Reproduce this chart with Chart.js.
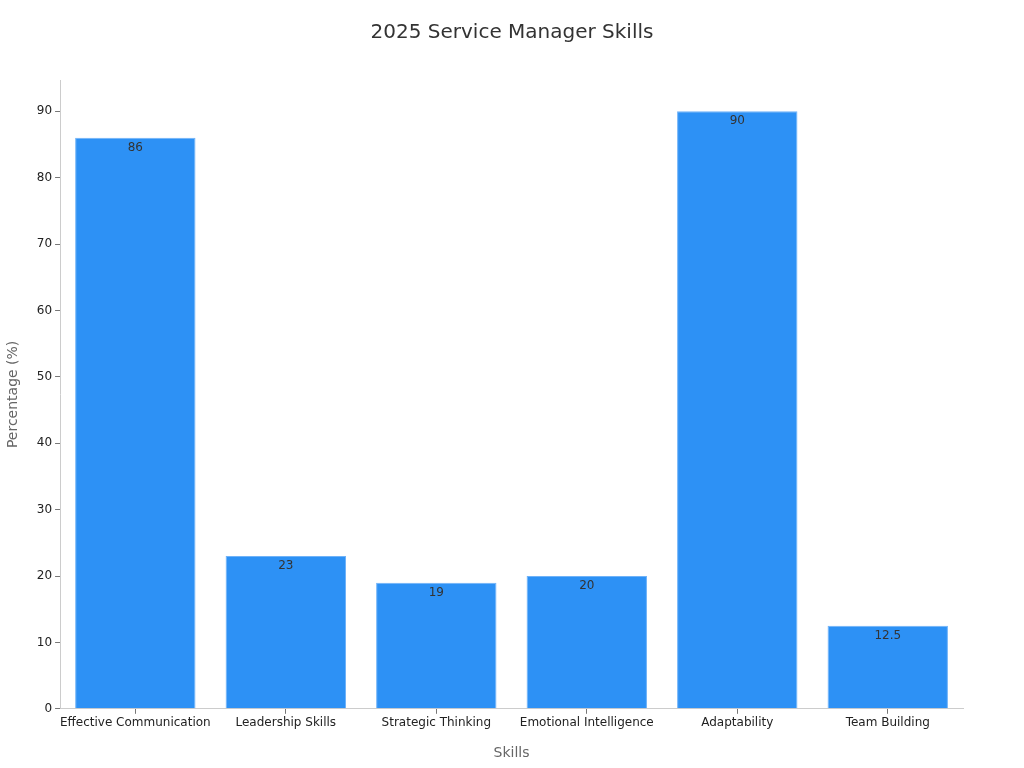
<!DOCTYPE html>
<html>
<head>
<meta charset="utf-8">
<script src="https://cdn.jsdelivr.net/npm/chart.js@4/dist/chart.umd.min.js"></script>
<style>
  html, body { margin: 0; padding: 0; background: #fff; }
  #wrap { width: 1024px; height: 768px; }
</style>
</head>
<body>
<div id="wrap"><canvas id="skillsChart" width="1024" height="768"></canvas></div>
<script>
const chartTitle = "2025 Service Manager Skills";
const skills = ["Effective Communication", "Leadership Skills", "Strategic Thinking", "Emotional Intelligence", "Adaptability", "Team Building"];
const percentages = [86, 23, 19, 20, 90, 12.5];
const yTicks = [0, 10, 20, 30, 40, 50, 60, 70, 80, 90];

Chart.defaults.font.family = "'DejaVu Sans', sans-serif";

// value labels just inside the top of each bar, title centred on the canvas
const barLabels = {
  id: "barLabels",
  afterDatasetsDraw(chart) {
    const ctx = chart.ctx;
    const meta = chart.getDatasetMeta(0);
    ctx.save();
    ctx.font = "12px 'DejaVu Sans', sans-serif";
    ctx.fillStyle = "#333";
    ctx.textAlign = "center";
    ctx.textBaseline = "middle";
    meta.data.forEach((bar, i) => {
      ctx.fillText(String(percentages[i]), bar.x, bar.y + 10);
    });
    ctx.font = "20px 'DejaVu Sans', sans-serif";
    ctx.fillText(chartTitle, chart.width / 2, 33);
    ctx.restore();
  }
};

new Chart(document.getElementById("skillsChart"), {
  type: "bar",
  data: {
    labels: skills,
    datasets: [
      {
        label: "Percentage",
        data: percentages,
        backgroundColor: "#2d91f5",
        borderColor: "#6fb2f8",
        borderWidth: 1,
        barPercentage: 0.8,
        categoryPercentage: 1.0,
      },
    ],
  },
  options: {
    responsive: false,
    animation: false,
    layout: { padding: { top: 80, right: 61, bottom: 2, left: 1 } },
    plugins: {
      legend: { display: false },
      tooltip: { enabled: false },
      title: { display: false },
    },
    scales: {
      x: {
        grid: { offset: false, drawOnChartArea: false, drawTicks: true, tickLength: 5, color: "#777" },
        border: { display: true, color: "#ccc" },
        ticks: { color: "#222", font: { size: 12 }, padding: 2, maxRotation: 0, autoSkip: false },
        title: { display: true, text: "Skills", color: "#666", font: { size: 14 }, padding: { top: 13 } },
      },
      y: {
        min: 0,
        max: 94.7,
        afterBuildTicks: (axis) => {
          axis.ticks = yTicks.map((v) => ({ value: v }));
        },
        grid: { drawOnChartArea: false, drawTicks: true, tickLength: 5, color: "#777" },
        border: { display: true, color: "#ccc" },
        ticks: { color: "#222", font: { size: 12 }, padding: 3 },
        title: { display: true, text: "Percentage (%)", color: "#666", font: { size: 14 }, padding: { bottom: 12 } },
      },
    },
  },
  plugins: [barLabels],
});
</script>
</body>
</html>
